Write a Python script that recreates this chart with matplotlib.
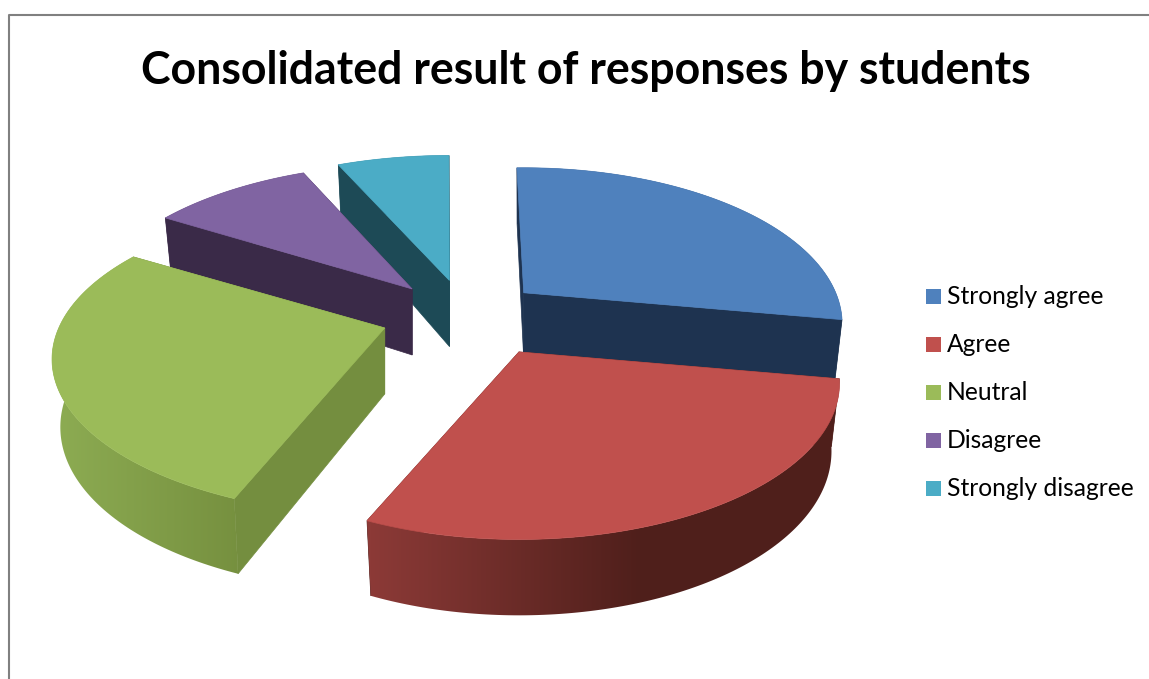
import numpy as np
import matplotlib
matplotlib.use('Agg')
import matplotlib.pyplot as plt
from matplotlib.patches import Polygon, Rectangle

# chart data
categories = ['Strongly agree', 'Agree', 'Neutral', 'Disagree', 'Strongly disagree']
values = [28.1, 28.7, 27.3, 9.5, 6.4]
title = 'Consolidated result of responses by students'

# colours per slice
top_colors = ['#4F81BD', '#C0504D', '#9BBB59', '#8064A2', '#4BACC6']
cut_colors = ['#1E3350', '#4F1F1B', '#748E3F', '#3A2A48', '#1D4A56']
rim_left = ['#1E3350', '#8C3A37', '#8CAB52', '#3A2A48', '#1D4A56']
rim_right = ['#1E3350', '#4F1F1B', '#76903F', '#3A2A48', '#1D4A56']
rim_x = [(500, 850), (370, 640), (60, 240), (160, 320), (330, 450)]

# pie geometry, in pixels
cx, cy = 463, 317.5
rx = [312, 314, 326, 320, 320]
ry = 150
persp = 0.2
depth = 66
explode = 0.25
start_angle = -1.2
nudge_x = [0, 18, -2, 2, 4]
nudge_y = [0, 1, -1, 0, 0]
# small corrections of the slice ends in degrees, the old 3d projection is not a true one
trim_start = [-0.3, 0, -1.2, 0, 0]
trim_end = [0, 0, 0, 0.5, 1.1]


def top_point(t, ox, oy, r):
    X, Y = np.sin(t), -np.cos(t)
    s = 1 / (1 - persp * Y)
    return ox + r * X * s, oy + ry * Y * s


def bottom_point(t, ox, oy, r):
    X, Y = np.sin(t), -np.cos(t)
    s = 0.975 / (1 - persp * Y)
    return ox + r * X * s, oy + ry * Y / (1 - persp * Y) + depth * (1 + 0.15 * Y)


fig = plt.figure(figsize=(11.49, 6.79), dpi=100)
ax = fig.add_axes([0, 0, 1, 1])

# frame, only left and top are in the picture
ax.plot([8.5, 8.5, 1149], [679, 15, 15], color='#808080', lw=1.5)

edges = np.radians(start_angle + np.concatenate([[0], np.cumsum(values)]) / sum(values) * 360)

# back slices first
z = 2
for i in [4, 3, 0, 2, 1]:
    mid = (edges[i] + edges[i + 1]) / 2
    a0 = edges[i] + np.radians(trim_start[i])
    a1 = edges[i + 1] + np.radians(trim_end[i])
    r = rx[i]
    ox = cx + explode * 320 * np.sin(mid) + nudge_x[i]
    oy = cy - explode * 152 * np.cos(mid) + nudge_y[i]
    ts = np.linspace(a0, a1, 120)

    # cut faces
    for a in (a0, a1):
        face = [(ox, oy), top_point(a, ox, oy, r), bottom_point(a, ox, oy, r), (ox, oy + depth)]
        ax.add_patch(Polygon(face, fc=cut_colors[i], ec=cut_colors[i], lw=0.5, zorder=z))

    # outer rim, horizontal gradient clipped to its outline
    rim = [top_point(t, ox, oy, r) for t in ts] + [bottom_point(t, ox, oy, r) for t in ts[::-1]]
    rim_patch = Polygon(rim, fc='none', ec='none', zorder=z + 1)
    ax.add_patch(rim_patch)
    left = np.array(matplotlib.colors.to_rgb(rim_left[i]))
    right = np.array(matplotlib.colors.to_rgb(rim_right[i]))
    f = np.clip((np.arange(1149) - rim_x[i][0]) / (rim_x[i][1] - rim_x[i][0]), 0, 1)
    grad = (left + (right - left) * f[:, None])[None, :, :]
    im = ax.imshow(grad, extent=(0, 1149, 679, 0), aspect='auto', zorder=z + 1)
    im.set_clip_path(rim_patch)

    # top face
    pts = [(ox, oy)] + [top_point(t, ox, oy, r) for t in ts]
    ax.add_patch(Polygon(pts, fc=top_colors[i], ec=top_colors[i], lw=0.5, zorder=z + 2))
    z += 3

ax.text(585.5, 84, title, fontfamily='Lato', fontweight='bold', fontsize=32.1,
        ha='center', va='baseline', color='black', zorder=z)

# legend
for i, name in enumerate(categories):
    y = 296.5 + 48 * i
    ax.add_patch(Rectangle((926, y - 7.5), 15, 15, fc=top_colors[i], ec='none', zorder=z))
    ax.text(947, y + 7.5, name, fontfamily='Lato', fontsize=17.75, ha='left', va='baseline',
            color='black', zorder=z)

ax.set_xlim(0, 1149)
ax.set_ylim(679, 0)
ax.axis('off')

fig.savefig('out.png', dpi=100)
